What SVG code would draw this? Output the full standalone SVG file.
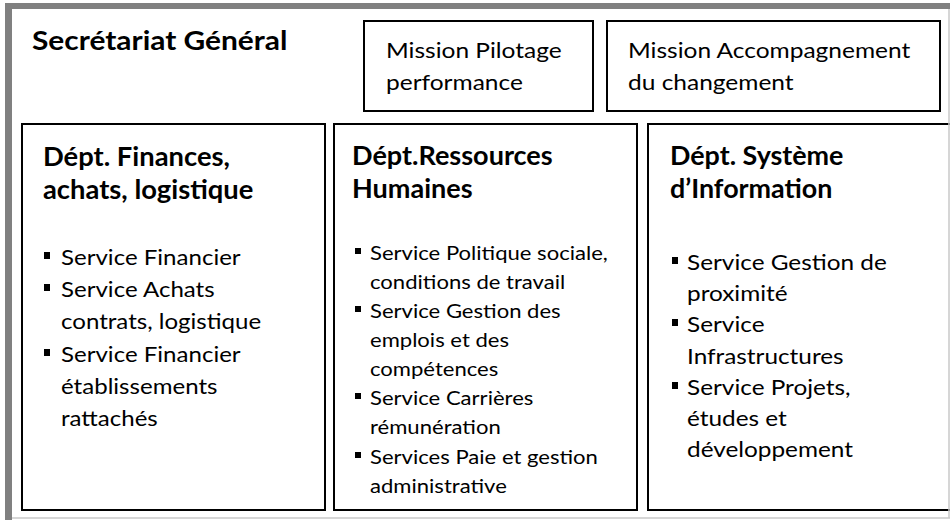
<svg xmlns="http://www.w3.org/2000/svg" width="950" height="520" viewBox="0 0 950 520">
<style>
.box{fill:#fff;stroke:#000;stroke-width:2}
.t{font-family:Lato,"Open Sans","Liberation Sans",sans-serif;fill:#000}
.h{font-weight:bold;font-size:26px}
.title{font-weight:bold;font-size:27px}
.m{font-size:22px}
.b{font-size:22px}
.b2{font-size:20px}
.sq{fill:#000}
</style>
<rect x="0" y="0" width="950" height="520" fill="#fff"/>
<g id="frame">
<rect x="5" y="3" width="945" height="6" fill="#808080"/>
<rect x="5" y="3" width="7" height="517" fill="#808080"/>
<line x1="12" y1="518" x2="950" y2="518" stroke="#c8c8c8" stroke-width="1.5"/>
</g>
<g id="secretariat">
<g transform="translate(32 0) scale(1.107 1)"><text class="t title" x="0" y="50">Secrétariat Général</text></g>
</g>
<g id="mission-pilotage">
<rect class="box" x="364" y="21" width="229" height="90"/>
<g transform="translate(386 0) scale(1.114 1)">
<text class="t m" x="0" y="58">Mission Pilotage</text>
<text class="t m" x="0" y="90">performance</text>
</g>
</g>
<g id="mission-accompagnement">
<rect class="box" x="607" y="21" width="333" height="90"/>
<g transform="translate(628 0) scale(1.114 1)">
<text class="t m" x="0" y="58">Mission Accompagnement</text>
<text class="t m" x="0" y="90">du changement</text>
</g>
</g>
<g id="dept-finances">
<rect class="box" x="22" y="124" width="303" height="386"/>
<g transform="translate(43 0) scale(1.052 1)">
<text class="t h" x="0" y="166">Dépt. Finances,</text>
<text class="t h" x="0" y="199">achats, logistique</text>
</g>
<rect class="sq" x="44" y="252" width="6" height="7"/>
<rect class="sq" x="44" y="284" width="6" height="7"/>
<rect class="sq" x="44" y="349" width="6" height="7"/>
<g transform="translate(61 0) scale(1.094 1)">
<text class="t b" x="0" y="265">Service Financier</text>
<text class="t b" x="0" y="297">Service Achats</text>
<text class="t b" x="0" y="329">contrats, logistique</text>
<text class="t b" x="0" y="362">Service Financier</text>
<text class="t b" x="0" y="394">établissements</text>
<text class="t b" x="0" y="426">rattachés</text>
</g>
</g>
<g id="dept-rh">
<rect class="box" x="334" y="124" width="303" height="386"/>
<g transform="translate(352 0) scale(1.04 1)">
<text class="t h" x="0" y="165">Dépt.Ressources</text>
<text class="t h" x="0" y="198">Humaines</text>
</g>
<rect class="sq" x="355" y="248" width="6" height="6"/>
<rect class="sq" x="355" y="306" width="6" height="6"/>
<rect class="sq" x="355" y="393" width="6" height="6"/>
<rect class="sq" x="355" y="452" width="6" height="6"/>
<g transform="translate(370 0) scale(1.104 1)">
<text class="t b2" x="0" y="260">Service Politique sociale,</text>
<text class="t b2" x="0" y="289">conditions de travail</text>
<text class="t b2" x="0" y="318">Service Gestion des</text>
<text class="t b2" x="0" y="347">emplois et des</text>
<text class="t b2" x="0" y="376">compétences</text>
<text class="t b2" x="0" y="405">Service Carrières</text>
<text class="t b2" x="0" y="434">rémunération</text>
<text class="t b2" x="0" y="464">Services Paie et gestion</text>
<text class="t b2" x="0" y="493">administrative</text>
</g>
</g>
<g id="dept-si">
<rect class="box" x="648" y="124" width="304" height="386"/>
<g transform="translate(670 0) scale(1.034 1)">
<text class="t h" x="0" y="165">Dépt. Système</text>
<text class="t h" x="0" y="198">d’Information</text>
</g>
<rect class="sq" x="672" y="257" width="6" height="7"/>
<rect class="sq" x="672" y="319" width="6" height="7"/>
<rect class="sq" x="672" y="382" width="6" height="7"/>
<g transform="translate(687 0) scale(1.107 1)">
<text class="t b" x="0" y="270">Service Gestion de</text>
<text class="t b" x="0" y="301">proximité</text>
<text class="t b" x="0" y="332">Service</text>
<text class="t b" x="0" y="364">Infrastructures</text>
<text class="t b" x="0" y="395">Service Projets,</text>
<text class="t b" x="0" y="426">études et</text>
<text class="t b" x="0" y="457">développement</text>
</g>
</g>
<line x1="949" y1="9" x2="949" y2="518" stroke="#c8c8c8" stroke-width="1.5"/>
<g id="connectors"/>
</svg>
